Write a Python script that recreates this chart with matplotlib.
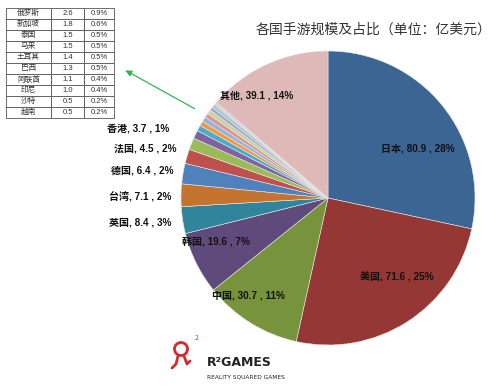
import numpy as np
import matplotlib
matplotlib.use("Agg")
import matplotlib.pyplot as plt
from matplotlib.patches import Circle

plt.rcParams['font.family'] = ['Noto Sans CJK SC', 'DejaVu Sans']

# data, clockwise from 12 o'clock
countries = ['日本', '美国', '中国', '韩国', '英国', '台湾', '德国', '法国', '香港',
             '俄罗斯', '新加坡', '泰国', '马来', '土耳其', '巴西', '阿联酋', '印尼',
             '沙特', '越南', '其他']
values = [80.9, 71.6, 30.7, 19.6, 8.4, 7.1, 6.4, 4.5, 3.7,
          2.6, 1.8, 1.5, 1.5, 1.4, 1.3, 1.1, 1.0, 0.5, 0.5, 39.1]
pcts = ['28%', '25%', '11%', '7%', '3%', '2%', '2%', '2%', '1%',
        '0.9%', '0.6%', '0.5%', '0.5%', '0.5%', '0.5%', '0.4%', '0.4%',
        '0.2%', '0.2%', '14%']

# small countries shown in the side table
table_names = countries[9:19]
table_values = ['2.6', '1.8', '1.5', '1.5', '1.4', '1.3', '1.1', '1.0', '0.5', '0.5']
table_pcts = pcts[9:19]

colors = ['#3b6593', '#953735', '#77933c', '#604a7b', '#31849b', '#c4742f',
          '#4f81bd', '#c0504d', '#9bbb59', '#8064a2', '#4bacc6', '#f79646',
          '#95b3d7', '#d99694', '#c3d69b', '#b3a2c7', '#93cddd', '#fac090',
          '#b9cde5', '#dfb9b8']

W, H = 498, 389
fig = plt.figure(figsize=(W / 100, H / 100), dpi=100)
ax = fig.add_axes([0, 0, 1, 1])

cx, cy, R = 328, H - 198, 147
ax.pie(values, colors=colors, startangle=90, counterclock=False,
       center=(cx, cy), radius=R, frame=True,
       wedgeprops=dict(edgecolor='#e8e8e8', linewidth=0.4))
ax.set_xlim(0, W)
ax.set_ylim(0, H)
ax.set_aspect('equal')
ax.axis('off')

label_font = ['Liberation Sans', 'Noto Sans CJK SC']

# label placement (pixel offsets from pie centre)
label_pos = {
    '日本': (90, 50), '美国': (69, -79), '中国': (-80, -97), '韩国': (-112, -43),
    '其他': (-71, 103),
    '英国': (-188, -24), '台湾': (-188, 2), '德国': (-186, 28),
    '法国': (-183, 50), '香港': (-190, 70),
}
for name, v, p in zip(countries, values, pcts):
    if name in label_pos:
        dx, dy = label_pos[name]
        ax.text(cx + dx, cy + dy, f'{name}, {v} , {p}', ha='center', va='center',
                fontsize=7.2, fontweight='bold', color='#111111', family=label_font)

ax.text(374, H - 30, '各国手游规模及占比（单位：亿美元）', ha='center', va='center',
        fontsize=10, color='#333333')

# side table
cells = [[n, v, p] for n, v, p in zip(table_names, table_values, table_pcts)]
tbl = ax.table(cellText=cells, colWidths=[45, 33, 30],
               bbox=[6 / W, (H - 118) / H, 108 / W, 110 / H], cellLoc='center')
tbl.auto_set_font_size(False)
for (r, c), cell in tbl.get_celld().items():
    cell.set_edgecolor('#555555')
    cell.set_linewidth(0.6)
    cell.get_text().set_color('#333333')
    cell.get_text().set_fontsize(5.5)
    cell.get_text().set_family(label_font)

# arrow from the small slices to the table
ax.annotate('', xy=(123, H - 69), xytext=(197, H - 110),
            arrowprops=dict(arrowstyle='-|>', color='#2db84d', lw=0.9,
                            mutation_scale=9))

# logo
ax.add_patch(Circle((181, H - 349), 6.5, fill=False, ec='#d42a2a', lw=2))
ax.plot([178, 176, 172], [H - 356, H - 364, H - 368], color='#d42a2a', lw=2,
        solid_capstyle='round')
ax.plot([184, 187, 190], [H - 356, H - 364, H - 361], color='#d42a2a', lw=2,
        solid_capstyle='round')
ax.text(197, H - 338, '2', fontsize=5, color='#d42a2a', ha='center', va='center')
ax.text(207, H - 363, 'R²GAMES', fontsize=9, fontweight='bold', color='#222222',
        ha='left', va='center', family='DejaVu Sans')
ax.text(207, H - 377, 'REALITY SQUARED GAMES', fontsize=4.2, color='#222222',
        ha='left', va='center', family='DejaVu Sans')

fig.savefig('out.png', dpi=100)
